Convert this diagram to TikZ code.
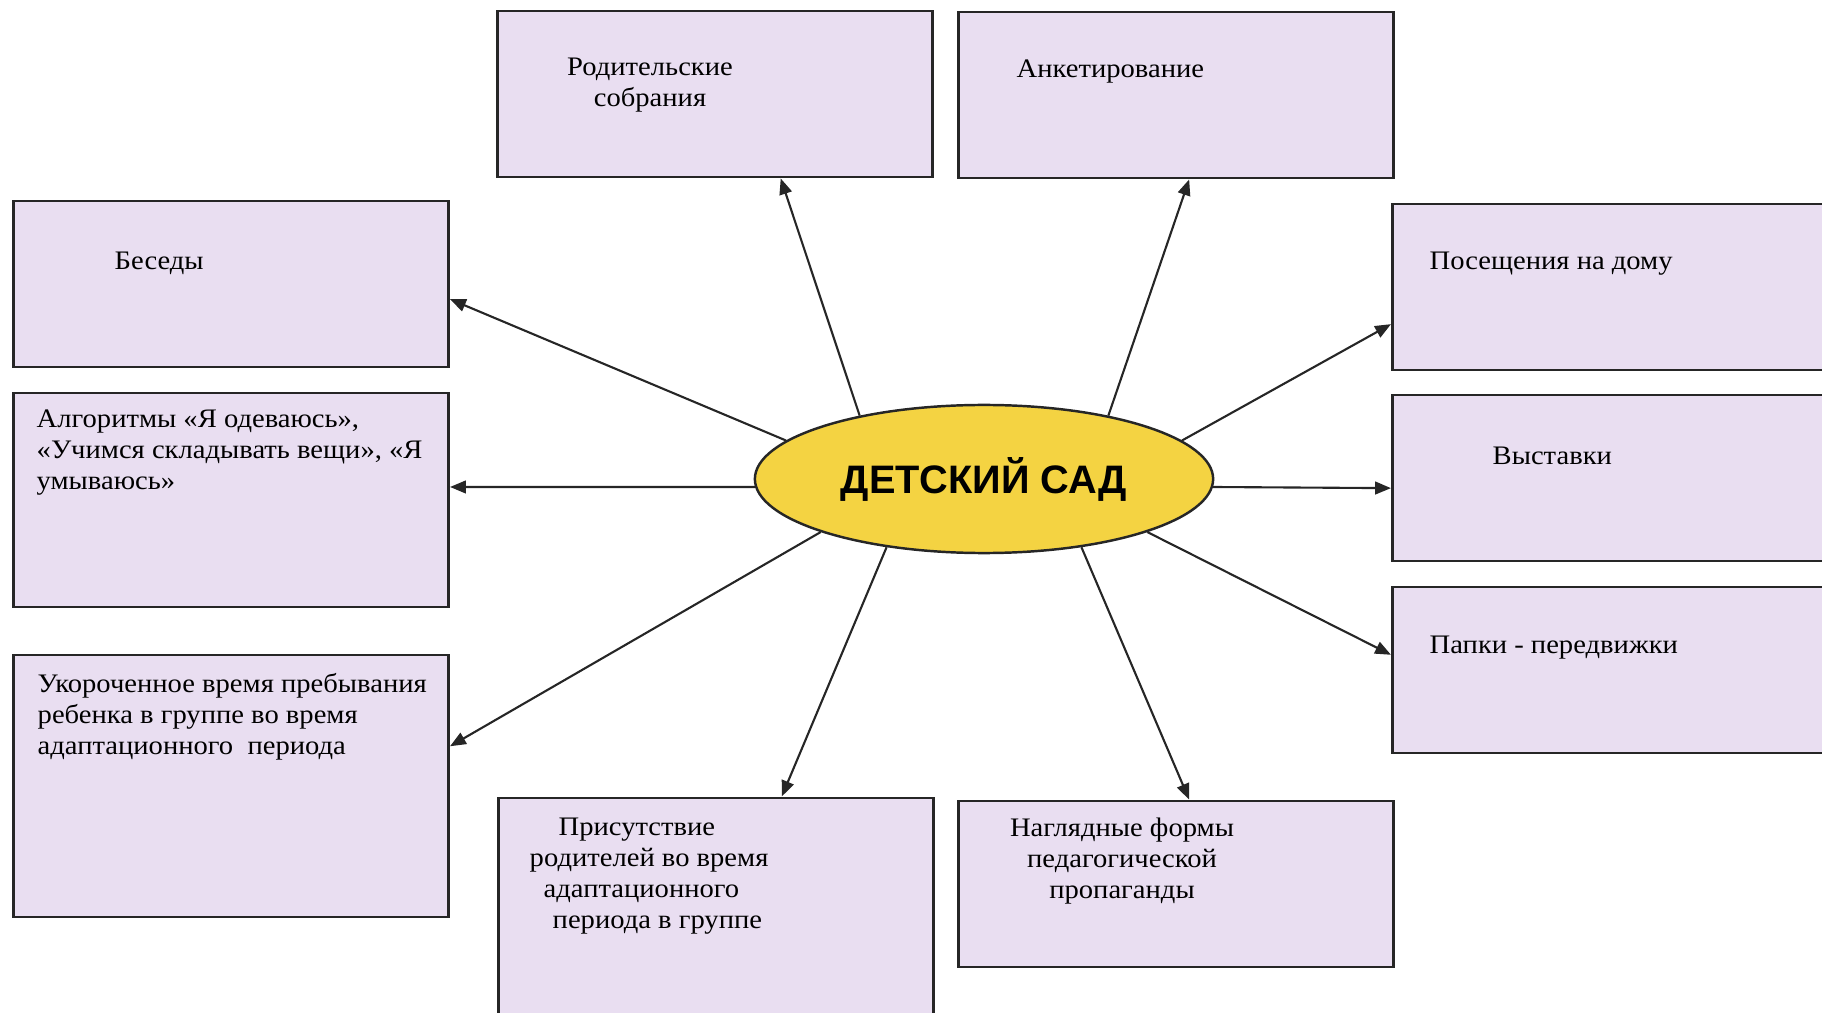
\documentclass[tikz,border=0pt]{standalone}
\usepackage{fontspec}
\setmainfont{Liberation Serif}[FakeStretch=1.07]
\newfontfamily\headfont{Liberation Sans}
\usetikzlibrary{shapes.geometric, arrows.meta, calc}
\definecolor{boxfill}{RGB}{233,222,241}
\definecolor{kgfill}{RGB}{244,211,66}

\begin{document}
\begin{tikzpicture}[x=0.01cm, y=-0.01cm,
        box/.style={draw=black!85, fill=boxfill, line width=0.8pt, minimum width=4.35cm, minimum height=1.66cm, inner sep=0pt},
        txt/.style={inner sep=0pt, font=\fontsize{7.6}{8.8}\selectfont},
        link/.style={-{Triangle[length=4.5pt,width=3.6pt]}, line width=0.6pt, black!85}]
        \useasboundingbox (0,0) rectangle (1822,1013);
        \clip (0,0) rectangle (1822,1013);

        \node[box] (rod) at (715,94) {};
        \node[box] (ank) at (1176,95) {};
        \node[box] (bes) at (231,284) {};
        \node[box, minimum height=2.14cm] (alg) at (231,500) {};
        \node[box, minimum height=2.62cm] (ukor) at (231,786) {};
        \node[box, minimum height=2.40cm] (pris) at (716,918) {};
        \node[box] (nagl) at (1176,884) {};
        \node[box] (pos) at (1610,287) {};
        \node[box] (vyst) at (1610,478) {};
        \node[box] (pap) at (1610,670) {};

        \node[txt, anchor=north, align=center] (rodT) at (650,57) {Родительские\\собрания};
        \node[txt, anchor=west] (ankT) at (1016,72) {Анкетирование};
        \node[txt, anchor=west] (besT) at (114,263) {Беседы};
        \node[txt, anchor=north west, align=left] (algT) at (36,409) {Алгоритмы «Я одеваюсь»,\\«Учимся складывать вещи», «Я\\умываюсь»};
        \node[txt, anchor=north west, align=left] (ukorT) at (37,673) {Укороченное время пребывания\\ребенка в группе во время\\адаптационного\ \ периода};
        \node[txt, anchor=north west, align=left] (prisT) at (529,817) {\hspace*{0.29cm}Присутствие\\родителей во время\\\hspace*{0.14cm}адаптационного\\\hspace*{0.23cm}периода в группе};
        \node[txt, anchor=north, align=center] (naglT) at (1122,817) {Наглядные формы\\педагогической\\пропаганды};
        \node[txt, anchor=west] (posT) at (1429,264) {Посещения на дому};
        \node[txt, anchor=west] (vystT) at (1492,456) {Выставки};
        \node[txt, anchor=west] (papT) at (1429,648) {Папки - передвижки};

        \node[ellipse, draw=black!85, fill=kgfill, line width=0.7pt, minimum width=4.58cm, minimum height=1.48cm, inner sep=0pt, font=\headfont\bfseries\fontsize{11.3}{12}\selectfont] (kg) at (984,479) {ДЕТСКИЙ САД};

        \draw[link] (kg.153) -- ($(rod.south west)!0.65!(rod.south east)$);
        \draw[link] (kg.27) -- ($(ank.south west)!0.53!(ank.south east)$);
        \draw[link] (kg.169) -- ($(bes.north east)!0.59!(bes.south east)$);
        \draw[link] (kg.182) -- ($(alg.north east)!0.44!(alg.south east)$);
        \draw[link] (kg.198) -- ($(ukor.north east)!0.35!(ukor.south east)$);
        \draw[link] (kg.215) -- ($(pris.north west)!0.65!(pris.north east)$);
        \draw[link] (kg.325) -- ($(nagl.north west)!0.53!(nagl.north east)$);
        \draw[link] (kg.11) -- ($(pos.north west)!0.72!(pos.south west)$);
        \draw[link] (kg.358) -- ($(vyst.north west)!0.56!(vyst.south west)$);
        \draw[link] (kg.342) -- ($(pap.north west)!0.41!(pap.south west)$);
\end{tikzpicture}
\end{document}
